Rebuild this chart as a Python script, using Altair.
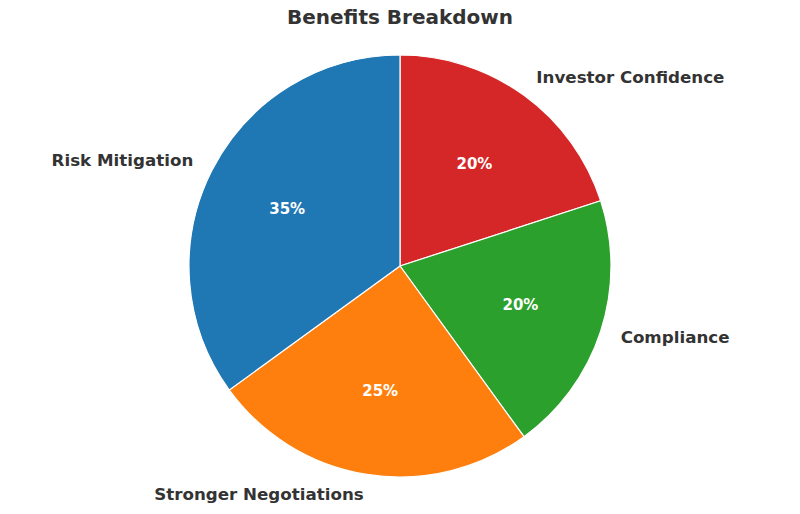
import altair as alt
import pandas as pd

title_text = "Benefits Breakdown"
labels = ["Investor Confidence", "Compliance", "Stronger Negotiations", "Risk Mitigation"]
shares = [20, 20, 25, 35]
colors = ["#d62728", "#2ca02c", "#ff7f0e", "#1f77b4"]
order = [0, 1, 2, 3]

df = pd.DataFrame({"label": labels, "share": shares, "ord": order})

theta_scale = alt.Scale(domain=[0, 100], range=[0, 6.283185307179586])
color_scale = alt.Scale(domain=labels, range=colors)

base = alt.Chart(df).transform_window(
    cum="sum(share)", sort=[alt.SortField("ord")]
).transform_calculate(
    start="datum.cum - datum.share",
    mid="datum.cum - datum.share / 2",
    pct="datum.share + '%'",
)

arcs = base.mark_arc(outerRadius=211, stroke="white", strokeWidth=1.2).encode(
    theta=alt.Theta("start:Q", scale=theta_scale),
    theta2="cum:Q",
    color=alt.Color("label:N", scale=color_scale, legend=None),
)

pcts = base.mark_text(radius=126.6, font="DejaVu Sans", fontWeight="bold",
                      fontSize=15, color="white", baseline="middle").encode(
    theta=alt.Theta("mid:Q", scale=theta_scale),
    text="pct:N",
)

right_labels = base.transform_filter("datum.mid < 50").mark_text(
    radius=232, font="DejaVu Sans", fontWeight="bold", fontSize=16.7,
    color="#333333", align="left", baseline="middle").encode(
    theta=alt.Theta("mid:Q", scale=theta_scale),
    text="label:N",
)

left_labels = base.transform_filter("datum.mid >= 50").mark_text(
    radius=232, font="DejaVu Sans", fontWeight="bold", fontSize=16.7,
    color="#333333", align="right", baseline="middle").encode(
    theta=alt.Theta("mid:Q", scale=theta_scale),
    text="label:N",
)

title = alt.Chart(pd.DataFrame({"t": [title_text]})).mark_text(
    font="DejaVu Sans", fontWeight="bold", fontSize=20, color="#333333",
    align="center", baseline="middle").encode(
    text="t:N", x=alt.value(392), y=alt.value(-8),
)

chart = alt.layer(arcs, pcts, right_labels, left_labels, title).properties(
    width=784,
    height=480,
    padding={"left": 0, "right": 0, "top": 18, "bottom": 0},
    autosize=alt.AutoSizeParams(type="none"),
).configure_view(stroke=None)

chart.save("out.html", embed_options={"renderer": "svg", "actions": False})
